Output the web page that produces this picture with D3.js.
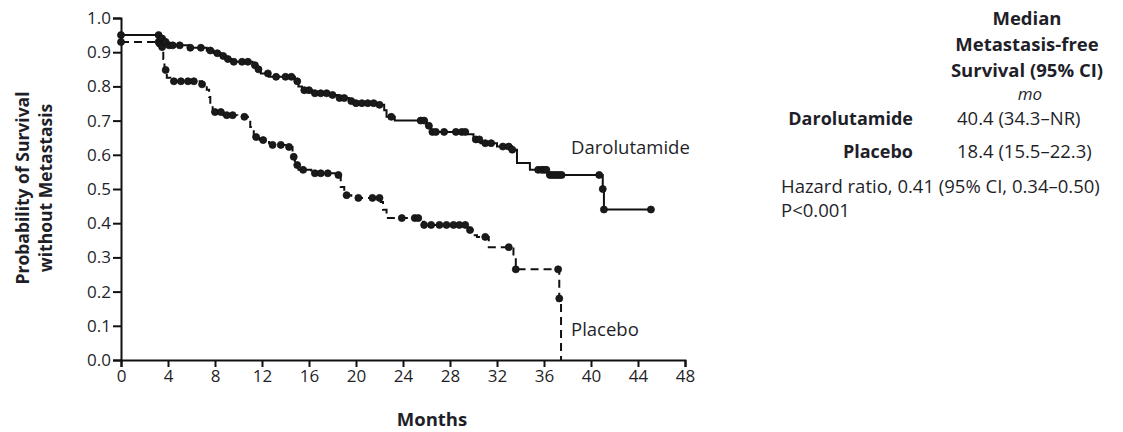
<!DOCTYPE html>
<html>
<head>
<meta charset="utf-8">
<script src="https://cdn.jsdelivr.net/npm/d3@7"></script>
<style>
  body { margin: 0; background: #fff; }
  svg text { font-family: "Open Sans", "Noto Sans", sans-serif; fill: #1f1f2a; }
</style>
</head>
<body>
<svg id="chart" width="1123" height="432"></svg>
<script>
// step points of each curve: [month, survival]
var daroSteps = [
  [0, 0.95], [3.3, 0.94], [3.6, 0.93], [3.9, 0.92], [5.8, 0.913], [7.3, 0.905],
  [7.9, 0.897], [8.5, 0.889], [8.9, 0.88], [9.4, 0.872], [11.2, 0.862], [11.5, 0.85],
  [11.9, 0.838], [12.6, 0.828], [14.8, 0.815], [15.1, 0.80], [15.4, 0.789], [16.3, 0.78],
  [17.9, 0.775], [18.5, 0.766], [19.4, 0.757], [19.8, 0.751], [21.9, 0.746], [22.4, 0.73],
  [22.6, 0.711], [23.3, 0.70], [26.0, 0.685], [26.4, 0.667], [29.5, 0.66], [30.0, 0.645],
  [30.6, 0.634], [32.0, 0.624], [33.3, 0.615], [33.7, 0.576], [34.8, 0.556], [36.3, 0.541],
  [41.0, 0.50], [41.1, 0.44]
];
var daroEnd = 45.1;

var placSteps = [
  [0, 0.93], [3.3, 0.925], [3.4, 0.915], [3.6, 0.88], [3.7, 0.848], [3.9, 0.825],
  [4.2, 0.815], [6.9, 0.806], [7.3, 0.79], [7.5, 0.769], [7.6, 0.745], [7.8, 0.725],
  [8.7, 0.716], [9.9, 0.711], [10.8, 0.70], [11.0, 0.681], [11.3, 0.652], [11.8, 0.643],
  [12.6, 0.634], [12.9, 0.629], [14.0, 0.623], [14.6, 0.594], [14.8, 0.57], [15.1, 0.556],
  [16.2, 0.546], [18.3, 0.541], [18.7, 0.506], [19.0, 0.482], [19.6, 0.474], [22.1, 0.462],
  [22.3, 0.439], [22.6, 0.415], [25.5, 0.404], [25.8, 0.395], [29.6, 0.38], [29.9, 0.365],
  [30.3, 0.36], [31.3, 0.33], [33.4, 0.30], [33.6, 0.265], [37.3, 0.18], [37.45, 0.0]
];
var placEnd = 37.45;

// censor marks (months)
var daroCensor = [0, 3.2, 3.4, 3.5, 3.7, 3.8, 4.1, 4.4, 5.0, 5.9, 6.8, 7.6, 8.2, 8.7,
  9.1, 9.6, 10.3, 10.8, 11.4, 11.7, 12.5, 13.2, 14.0, 14.5, 15.0, 15.6, 16.0, 16.5, 17.0,
  17.5, 18.0, 18.6, 19.0, 19.6, 20.0, 20.5, 21.0, 21.5, 22.0, 23.0, 25.5, 25.8, 26.2,
  26.5, 26.8, 27.5, 28.5, 29.0, 29.3, 30.2, 30.5, 31.0, 31.5, 32.5, 33.0, 33.3, 35.5,
  35.8, 36.0, 36.2, 36.5, 36.7, 36.9, 37.1, 37.3, 37.5, 40.7, 41.0, 41.1, 45.1];
var placCensor = [0, 3.2, 3.3, 3.5, 3.8, 4.5, 5.1, 5.7, 6.2, 6.9, 8.0, 8.5, 9.0, 9.5,
  10.5, 11.5, 12.1, 12.9, 13.6, 14.3, 14.7, 15.0, 15.5, 16.5, 17.0, 17.6, 18.5, 19.2,
  20.2, 21.4, 22.0, 23.9, 25.0, 25.3, 25.8, 26.4, 27.1, 27.7, 28.3, 28.8, 29.3, 29.7,
  31.0, 33.0, 33.6, 37.2, 37.3];

var yTicks = [0, 0.1, 0.2, 0.3, 0.4, 0.5, 0.6, 0.7, 0.8, 0.9, 1.0];
var xTicks = [0, 4, 8, 12, 16, 20, 24, 28, 32, 36, 40, 44, 48];

var svg = d3.select('#chart');
var
  margin = {top: 18, left: 121},
  W = 564,
  H = 342,
  x = d3.scaleLinear().domain([0, 48]).range([0, W]),
  y = d3.scaleLinear().domain([0, 1]).range([H, 0])
  ;

var g = svg.append('g').attr('transform', 'translate(' + margin.left + ',' + margin.top + ')');

// axes
var yAxis = d3.axisLeft(y).tickValues(yTicks).tickFormat(d3.format('.1f')).tickSize(8).tickPadding(2);
var xAxis = d3.axisBottom(x).tickValues(xTicks).tickFormat(d3.format('d')).tickSize(7).tickPadding(3);

g.append('g').attr('class', 'axis').call(yAxis);
g.append('g').attr('class', 'axis').attr('transform', 'translate(0,' + H + ')').call(xAxis);

g.selectAll('.axis path').attr('stroke', '#111').attr('stroke-width', 2);
g.selectAll('.axis line').attr('stroke', '#111').attr('stroke-width', 2);
g.selectAll('.axis text').style('font-size', '17px').attr('fill', '#1f1f2a');

// helpers
function stepValue(steps, t) {
  var v = steps[0][1];
  steps.forEach(function(s){ if (s[0] <= t) v = s[1]; });
  return v;
}
function withEnd(steps, end) {
  var pts = steps.slice();
  pts.push([end, steps[steps.length - 1][1]]);
  return pts;
}

var line = d3.line()
  .curve(d3.curveStepAfter)
  .x(function(d){ return x(d[0]); })
  .y(function(d){ return y(d[1]); });

g.append('path')
  .datum(withEnd(placSteps, placEnd))
  .attr('d', line)
  .attr('fill', 'none')
  .attr('stroke', '#111')
  .attr('stroke-width', 2)
  .attr('stroke-dasharray', '8,5');

g.append('path')
  .datum(withEnd(daroSteps, daroEnd))
  .attr('d', line)
  .attr('fill', 'none')
  .attr('stroke', '#111')
  .attr('stroke-width', 2);

function censor(times, steps) {
  g.append('g').selectAll('circle')
    .data(times)
    .enter().append('circle')
    .attr('cx', function(d){ return x(d); })
    .attr('cy', function(d){ return y(stepValue(steps, d)); })
    .attr('r', 3.5)
    .attr('fill', '#1a1a1a')
    .attr('stroke', '#111')
    .attr('stroke-width', 0.8);
}
censor(placCensor, placSteps);
censor(daroCensor, daroSteps);

// curve labels
g.append('text').attr('x', x(38.3)).attr('y', y(0.62)).attr('dy', '0.35em')
  .style('font-size', '18.5px').text('Darolutamide');
g.append('text').attr('x', x(38.3)).attr('y', y(0.09)).attr('dy', '0.35em')
  .style('font-size', '18.5px').text('Placebo');

// axis titles
svg.append('text')
  .attr('transform', 'translate(23,188) rotate(-90)')
  .attr('text-anchor', 'middle').attr('dy', '0.35em')
  .style('font-size', '17.5px').style('font-weight', 'bold')
  .text('Probability of Survival');
svg.append('text')
  .attr('transform', 'translate(46,188) rotate(-90)')
  .attr('text-anchor', 'middle').attr('dy', '0.35em')
  .style('font-size', '17.5px').style('font-weight', 'bold')
  .text('without Metastasis');
svg.append('text')
  .attr('x', 432).attr('y', 420)
  .attr('text-anchor', 'middle').attr('dy', '0.35em')
  .style('font-size', '18.5px').style('font-weight', 'bold')
  .text('Months');

// median table
var headLines = ['Median', 'Metastasis-free', 'Survival (95% CI)'];
var groups = ['Darolutamide', 'Placebo'];
var medians = ['40.4 (34.3\u2013NR)', '18.4 (15.5\u201322.3)'];
var notes = ['Hazard ratio, 0.41 (95% CI, 0.34\u20130.50)', 'P<0.001'];

var tbl = svg.append('g');
tbl.selectAll('text.head').data(headLines).enter().append('text')
  .attr('class', 'head')
  .attr('x', 1027).attr('y', function(d, i){ return 19 + i * 26; })
  .attr('dy', '0.35em').attr('text-anchor', 'middle')
  .style('font-size', '18.5px').style('font-weight', 'bold')
  .text(function(d){ return d; });
tbl.append('text').attr('x', 1030).attr('y', 94).attr('dy', '0.35em')
  .attr('text-anchor', 'middle').style('font-size', '17px').style('font-style', 'italic')
  .text('mo');
tbl.selectAll('text.grp').data(groups).enter().append('text')
  .attr('class', 'grp')
  .attr('x', 913).attr('y', function(d, i){ return 119 + i * 33; })
  .attr('dy', '0.35em').attr('text-anchor', 'end')
  .style('font-size', '18px').style('font-weight', 'bold')
  .text(function(d){ return d; });
tbl.selectAll('text.med').data(medians).enter().append('text')
  .attr('class', 'med')
  .attr('x', 957).attr('y', function(d, i){ return 119 + i * 33; })
  .attr('dy', '0.35em')
  .style('font-size', '18.5px')
  .text(function(d){ return d; });
tbl.selectAll('text.note').data(notes).enter().append('text')
  .attr('class', 'note')
  .attr('x', 781).attr('y', function(d, i){ return 187 + i * 24; })
  .attr('dy', '0.35em')
  .style('font-size', '18.5px')
  .text(function(d){ return d; });
</script>
</body>
</html>
